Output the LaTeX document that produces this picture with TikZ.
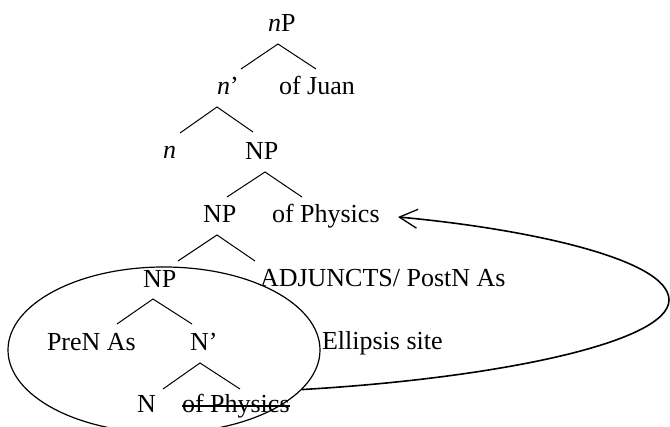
\documentclass[tikz,border=0pt]{standalone}
\usepackage{fontspec}
\setmainfont{Liberation Serif}
\usetikzlibrary{arrows.meta,shapes.geometric,calc}

\tikzset{
  lbl/.style={anchor=base west, inner sep=0pt, outer sep=0pt,
              font=\fontsize{26}{30}\selectfont},
  branch/.style={line width=1pt},
  site/.style={draw, shape=ellipse, line width=1.2pt, inner sep=0pt,
               minimum width=312pt, minimum height=166pt},
  link/.style={line width=1.6pt, -{Straight Barb[length=18pt,width=19pt,line width=1.3pt]}},
  strike/.style={line width=1.6pt}
}

\begin{document}
\begin{tikzpicture}[x=1pt,y=-1pt]
  \useasboundingbox (0,0) rectangle (670,427);
  \clip (0,0) rectangle (670,427);

  % labels of the tree
  \node[lbl] (nP)    at (268,32)  {\textit{n}P};
  \node[lbl] (nbar)  at (217,95)  {\textit{n}’};
  \node[lbl] (juan)  at (279,95)  {of Juan};
  \node[lbl] (n)     at (163,159) {\textit{n}};
  \node[lbl] (NPa)   at (245,160) {NP};
  \node[lbl] (NPb)   at (203,223) {NP};
  \node[lbl] (phys)  at (272,223) {of Physics};
  \node[lbl] (NPc)   at (143,288) {NP};
  \node[lbl] (adj)   at (260,287) {ADJUNCTS/ PostN As};
  \node[lbl] (pre)   at (47,351)  {PreN As};
  \node[lbl] (Nbar)  at (190,351) {N’};
  \node[lbl] (ell)   at (322,350) {Ellipsis site};
  \node[lbl] (N)     at (137,413) {N};
  \node[lbl] (gone)  at (182,413) {of Physics};

  % elided complement is struck through
  \draw[strike] ($(gone.base west)+(0,-7)$) -- ($(gone.base east)+(0,-7)$);

  % branch points and branch ends
  \coordinate (a1) at (278,44);  \coordinate (l1) at (241,69);  \coordinate (r1) at (316,69);
  \coordinate (a2) at (217,107); \coordinate (l2) at (180,133); \coordinate (r2) at (253,132);
  \coordinate (a3) at (265,172); \coordinate (l3) at (227,197); \coordinate (r3) at (302,197);
  \coordinate (a4) at (217,235); \coordinate (l4) at (178,261); \coordinate (r4) at (255,261);
  \coordinate (a5) at (153,299); \coordinate (l5) at (117,324); \coordinate (r5) at (192,324);
  \coordinate (a6) at (200,363); \coordinate (l6) at (163,389); \coordinate (r6) at (240,389);

  \foreach \i in {1,...,6}{
    \draw[branch] (l\i) -- (a\i) -- (r\i);
  }

  % ellipsis site
  \node[site] (zone) at (164,350) {};

  % the elided constituent points back to its antecedent
  \coordinate (tgt) at (398,217);
  \draw[link] (zone.-16) .. controls (500,378) and (669,342) .. (669,300)
              .. controls (669,258) and (520,228) .. (tgt);
\end{tikzpicture}
\end{document}
